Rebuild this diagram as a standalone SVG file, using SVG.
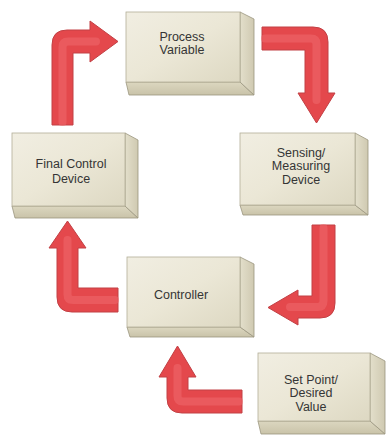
<svg xmlns="http://www.w3.org/2000/svg" width="388" height="437" viewBox="0 0 388 437">
<defs>
<linearGradient id="gFront" x1="0" y1="0" x2="1" y2="1">
<stop offset="0" stop-color="#f1eee2"/>
<stop offset="0.5" stop-color="#ebe7d6"/>
<stop offset="1" stop-color="#ddd8c2"/>
</linearGradient>
<linearGradient id="gSide" x1="0" y1="0" x2="1" y2="0">
<stop offset="0" stop-color="#e3dfcb"/>
<stop offset="1" stop-color="#cfc9b1"/>
</linearGradient>
<linearGradient id="gBottom" x1="0" y1="0" x2="0" y2="1">
<stop offset="0" stop-color="#dcd7c0"/>
<stop offset="1" stop-color="#c9c3a9"/>
</linearGradient>
</defs>
<style>
.front{fill:url(#gFront);stroke:#b3ae98;stroke-width:0.8}
.side{fill:url(#gSide);stroke:#9a957f;stroke-width:0.8}
.bottom{fill:url(#gBottom);stroke:#9a957f;stroke-width:0.8}
.lbl{font-family:"Liberation Sans",Arial,sans-serif;font-size:12.5px;fill:#353535;text-anchor:middle}
.arrow{fill:#e4484c;stroke:#c24044;stroke-width:1;stroke-linejoin:round}
.hl{fill:none;stroke:#ef6a6d;stroke-width:8;stroke-linecap:round;stroke-linejoin:round;opacity:0.55}
</style>
<rect width="388" height="437" fill="#ffffff"/>

<g id="connectors">
<path class="arrow" d="M52,125 L52,45 Q52,30 67,30 L90,30 L90,21 L118,41.5 L90,62 L90,53 L73,53 L73,125 Z"/>
<path class="hl" d="M62.5,122 L62.5,47 Q62.5,41.5 68,41.5 L96,41.5"/>
<path class="arrow" d="M262,27 L313,27 Q328,27 328,42 L328,93 L335,93 L316.5,123 L298,93 L305,93 L305,50 L262,50 Z"/>
<path class="hl" d="M265,38.5 L311,38.5 Q316.5,38.5 316.5,44 L316.5,100"/>
<path class="arrow" d="M312,225 L335,225 L335,303 Q335,318 320,318 L298,318 L298,325 L268,307.5 L298,290 L298,296 L312,296 Z"/>
<path class="hl" d="M323.5,228 L323.5,301 Q323.5,307 317.5,307 L290,307"/>
<path class="arrow" d="M118,288 L78,288 L78,248 L86,248 L67.5,221 L49,248 L57,248 L57,297 Q57,312 72,312 L118,312 Z"/>
<path class="hl" d="M115,300 L73,300 Q67.5,300 67.5,294.5 L67.5,240"/>
<path class="arrow" d="M242,390 L188,390 L188,377 L196,377 L177.5,346 L159,377 L167,377 L167,398 Q167,413 182,413 L242,413 Z"/>
<path class="hl" d="M239,401.5 L183,401.5 Q177.5,401.5 177.5,396 L177.5,368"/>
</g>

<g id="process-variable">
<polygon class="bottom" points="126,82 240,82 254,95 129,95"/>
<polygon class="side" points="240,12 254,19 254,95 240,82"/>
<rect class="front" x="126" y="12" width="114" height="70"/>
<text class="lbl" x="182" y="41">Process</text>
<text class="lbl" x="182" y="54">Variable</text>
</g>

<g id="final-control-device">
<polygon class="bottom" points="12,206 125,206 138,218 15,218"/>
<polygon class="side" points="125,133 138,140 138,218 125,206"/>
<rect class="front" x="12" y="133" width="113" height="73"/>
<text class="lbl" x="71" y="168">Final Control</text>
<text class="lbl" x="71" y="183">Device</text>
</g>

<g id="sensing-measuring-device">
<polygon class="bottom" points="240,205 355,205 368,215 243,215"/>
<polygon class="side" points="355,133 368,140 368,215 355,205"/>
<rect class="front" x="240" y="133" width="115" height="72"/>
<text class="lbl" x="301" y="157">Sensing/</text>
<text class="lbl" x="301" y="170">Measuring</text>
<text class="lbl" x="301" y="184">Device</text>
</g>

<g id="controller">
<polygon class="bottom" points="127,327 240,327 254,337 130,337"/>
<polygon class="side" points="240,257 254,264 254,337 240,327"/>
<rect class="front" x="127" y="257" width="113" height="70"/>
<text class="lbl" x="181" y="299">Controller</text>
</g>

<g id="set-point">
<polygon class="bottom" points="258,421 370,421 385,434 261,434"/>
<polygon class="side" points="370,353 385,361 385,434 370,421"/>
<rect class="front" x="258" y="353" width="112" height="68"/>
<text class="lbl" x="311" y="384">Set Point/</text>
<text class="lbl" x="311" y="397">Desired</text>
<text class="lbl" x="311" y="411">Value</text>
</g>
</svg>
